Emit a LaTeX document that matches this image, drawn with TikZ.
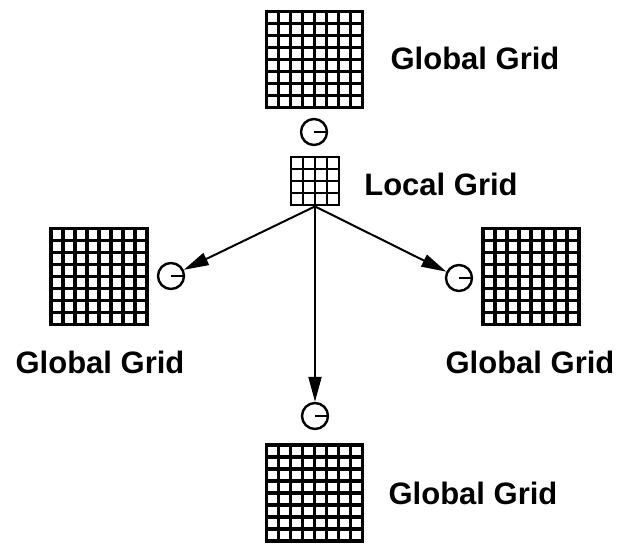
\documentclass[tikz,border=0pt]{standalone}
\usepackage{fontspec}
\setmainfont{Liberation Sans}
\usetikzlibrary{arrows.meta,calc,positioning}

\tikzset{
  cellgrid/.style 2 args={rectangle, draw, line width=#2, minimum size=#1, inner sep=0pt,
    path picture={
      \foreach \k in {1,...,7}{
        \draw[line width=#2] ($(path picture bounding box.south west)!\k/8!(path picture bounding box.south east)$)
          -- ($(path picture bounding box.north west)!\k/8!(path picture bounding box.north east)$);
        \draw[line width=#2] ($(path picture bounding box.south west)!\k/8!(path picture bounding box.north west)$)
          -- ($(path picture bounding box.south east)!\k/8!(path picture bounding box.north east)$);
      }}},
  localgrid/.style={rectangle, draw, line width=1.4pt, minimum size=24pt, inner sep=0pt,
    path picture={
      \foreach \k in {1,2,3}{
        \draw[line width=1.4pt] ($(path picture bounding box.south west)!\k/4!(path picture bounding box.south east)$)
          -- ($(path picture bounding box.north west)!\k/4!(path picture bounding box.north east)$);
        \draw[line width=1.4pt] ($(path picture bounding box.south west)!\k/4!(path picture bounding box.north west)$)
          -- ($(path picture bounding box.south east)!\k/4!(path picture bounding box.north east)$);
      }}},
  probe/.style={circle, draw, line width=1.2pt, minimum size=13pt, inner sep=0pt,
    path picture={\draw[line width=1.2pt] (path picture bounding box.center) -- (path picture bounding box.east);}},
  gridlabel/.style={font=\bfseries\fontsize{15.5}{18}\selectfont, inner sep=0pt}
}

\begin{document}
\begin{tikzpicture}[x=0.5pt, y=-0.5pt]
   \useasboundingbox (0,0) rectangle (627,543);
   \begin{scope}[every node/.style={cellgrid={48pt}{1.8pt}}]
    \node (g1) at (314.5,59.5) {};
    \node (g2) at (99,276.5) {};
    \node (g3) at (531,276.5) {};
    \node (g4) at (314.5,493) {};
   \end{scope}
   \node[localgrid] (lg) at (315,181) {};
   \begin{scope}[every node/.style={probe}]
    \node (p1) at (314,132) {};
    \node (p2) at (171,276) {};
    \node (p3) at (459,278) {};
    \node (p4) at (315,416) {};
   \end{scope}
   \begin{scope}[every node/.style={gridlabel}]
    \node (t1) at (475,58) {Global Grid};
    \node (t2) at (441,184) {Local Grid};
    \node (t3) at (100,362) {Global Grid};
    \node (t4) at (530,362) {Global Grid};
    \node (t5) at (473,493) {Global Grid};
   \end{scope}
   \begin{scope}[-{Triangle[length=12.5pt,width=6.5pt]}, line width=1pt]
    \draw (lg.south) -- (p2);
    \draw (lg.south) -- (p3);
    \draw (lg.south) -- (p4);
   \end{scope}
\end{tikzpicture}
\end{document}
